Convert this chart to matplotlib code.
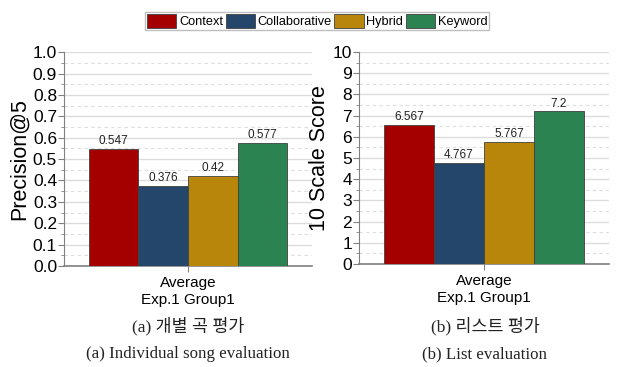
import numpy as np
import matplotlib
matplotlib.use("Agg")
import matplotlib.pyplot as plt
from matplotlib.ticker import MultipleLocator, FormatStrFormatter

plt.rcParams['font.family'] = ['Liberation Sans', 'DejaVu Sans']

methods = ["Context", "Collaborative", "Hybrid", "Keyword"]
colors = ["#a50000", "#23466a", "#b8860b", "#2a8350"]
group_label = "Average\nExp.1 Group1"
precision = [0.547, 0.376, 0.42, 0.577]
precision_txt = ["0.547", "0.376", "0.42", "0.577"]
score = [6.567, 4.767, 5.767, 7.2]
score_txt = ["6.567", "4.767", "5.767", "7.2"]

GRID = "#dcdcdc"
SPINE = "#808080"

fig = plt.figure(figsize=(6.17, 3.67), dpi=100)
ax1 = fig.add_axes([0.1037, 0.275, 0.402, 0.583])
ax2 = fig.add_axes([0.582, 0.281, 0.405, 0.577])

def draw_panel(ax, vals, txts, ymax, major, ylabel, fmt):
    w = 0.2
    n = len(vals)
    bars = []
    for i, v in enumerate(vals):
        x = (i - (n - 1) / 2) * w
        b = ax.bar(x, v, w, color=colors[i], edgecolor="#404040", linewidth=0.6,
                   label=methods[i], zorder=3)
        bars.append(b)
        ax.text(x, v + ymax * 0.008, txts[i], ha="center", va="bottom",
                fontsize=8.5, color="#222222", zorder=4)
    ax.set_xlim(-0.5, 0.5)
    ax.set_ylim(0, ymax)
    ax.yaxis.set_major_locator(MultipleLocator(major))
    ax.yaxis.set_minor_locator(MultipleLocator(major / 2))
    ax.yaxis.set_major_formatter(FormatStrFormatter(fmt))
    ax.grid(axis="y", which="major", color=GRID, linewidth=1.0, zorder=0)
    ax.grid(axis="y", which="minor", color=GRID, linewidth=0.8,
            linestyle=(0, (3, 3)), zorder=0)
    ax.set_xticks([0])
    ax.set_xticklabels([group_label], fontsize=11, linespacing=1.3)
    ax.tick_params(axis="y", which="major", labelsize=12.5, length=4, color=SPINE, pad=1)
    ax.tick_params(axis="y", which="minor", length=2, color=SPINE)
    ax.tick_params(axis="x", length=4, color=SPINE, pad=3)
    for s in ["top", "right"]:
        ax.spines[s].set_visible(False)
    for s in ["left", "bottom"]:
        ax.spines[s].set_color(SPINE)
    ax.spines["bottom"].set_linewidth(1.2)
    ax.set_ylabel(ylabel, fontsize=15.5, labelpad=2)
    return bars

bars = draw_panel(ax1, precision, precision_txt, 1.0, 0.1, "Precision@5", "%.1f")
draw_panel(ax2, score, score_txt, 10, 1, "10 Scale Score", "%d")

leg = fig.legend(handles=[b[0] for b in bars], labels=methods, loc="center",
                 bbox_to_anchor=(0.514, 0.943), ncol=4, frameon=True, fancybox=False,
                 prop={"size": 9.2},
                 handlelength=2.3, handleheight=1.3, handletextpad=0.2,
                 columnspacing=0.2, borderpad=0.15, borderaxespad=0)
leg.get_frame().set_edgecolor("#b0b0b0")
leg.get_frame().set_linewidth(1.0)

cap_font = ["Liberation Serif", "Noto Sans CJK KR"]
fig.text(0.305, 0.112, "(a) 개별 곡 평가", ha="center", va="center", fontsize=12.5,
         family=cap_font, color="#222222")
fig.text(0.786, 0.112, "(b) 리스트 평가", ha="center", va="center", fontsize=12.5,
         family=cap_font, color="#222222")
fig.text(0.305, 0.035, "(a) Individual song evaluation", ha="center", va="center",
         fontsize=12.2, family=cap_font, color="#222222")
fig.text(0.786, 0.035, "(b) List evaluation", ha="center", va="center",
         fontsize=12.2, family=cap_font, color="#222222")

fig.savefig("out.png", dpi=100)
